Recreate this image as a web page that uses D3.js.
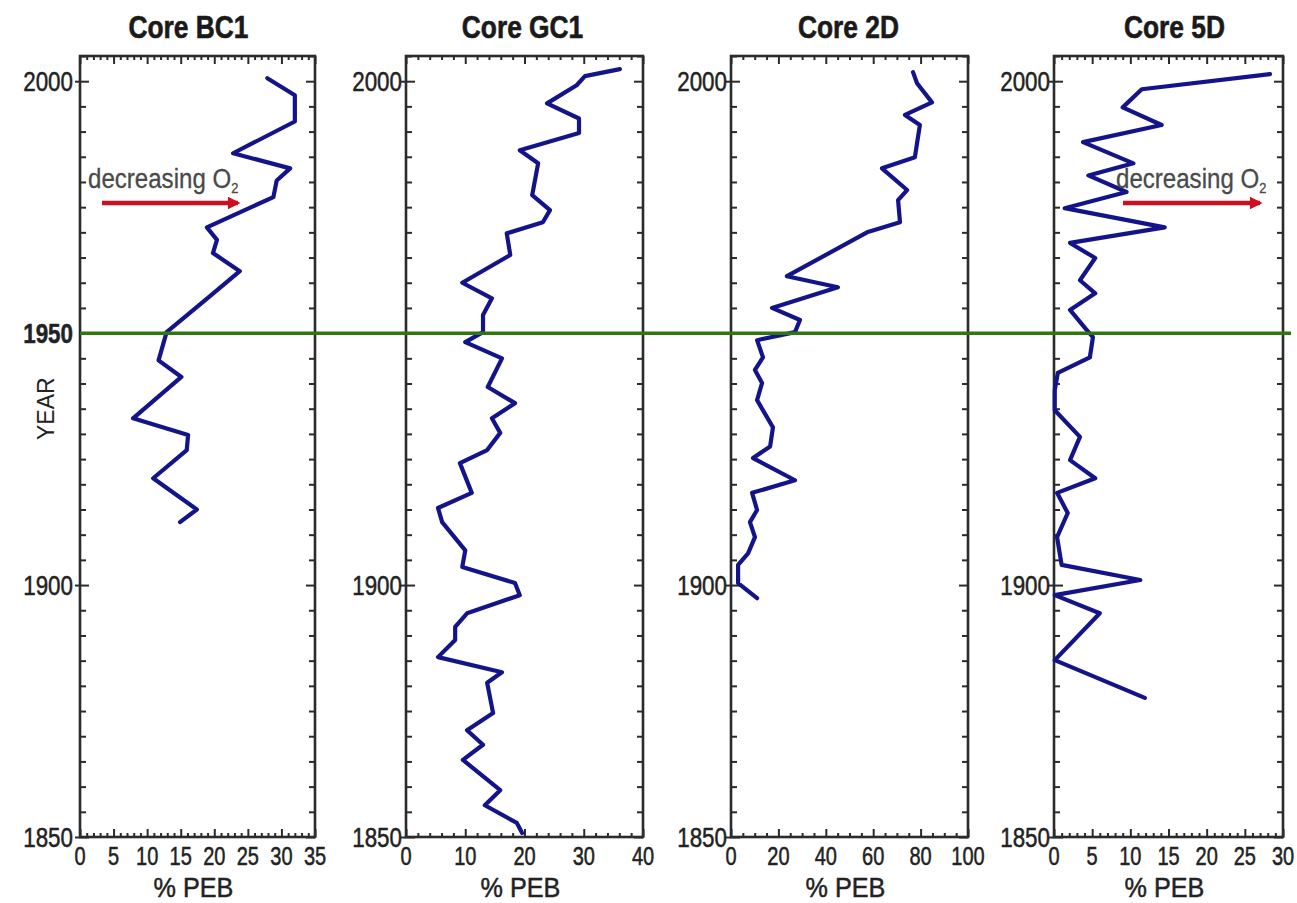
<!DOCTYPE html>
<html>
<head>
<meta charset="utf-8">
<script src="https://cdn.jsdelivr.net/npm/d3@7"></script>
<style>
  html, body { margin: 0; padding: 0; background: #fff; }
  svg { display: block; }
  text { font-family: "Liberation Sans", Arial, sans-serif; }
</style>
</head>
<body>
<svg id="chart" width="1297" height="903"></svg>
<script>
// ---------------- DATA ----------------
const coreNames = ["Core BC1", "Core GC1", "Core 2D", "Core 5D"];

const bc1Years  = [2000.6, 1997.2, 1992, 1985.7, 1982.7, 1980.3, 1977, 1971, 1968.5, 1965.9, 1962.3, 1956.5, 1950.2, 1944.6, 1941.3, 1933.1, 1929.8, 1926.8, 1921.2, 1915, 1912.5];
const bc1Values = [27.9, 32, 32, 22.8, 31.3, 29.3, 28.8, 18.9, 20.4, 19.8, 23.8, 18.6, 12.9, 11.7, 15.1, 7.9, 16.1, 15.9, 10.9, 17.4, 14.9];

const gc1Years  = [2002.4, 2001, 1999.2, 1995.6, 1992.6, 1989.7, 1986.3, 1983.7, 1977.4, 1974.4, 1972, 1969.8, 1965.5, 1960, 1956.9, 1953.6, 1950.2, 1948.2, 1945, 1939.3, 1936.1, 1933.1, 1930.2, 1926.8, 1924.2, 1918.3, 1915.3, 1912.5, 1906.9, 1903.6, 1900.4, 1898, 1894.4, 1891.7, 1889.1, 1885.7, 1882.7, 1880.6, 1874.6, 1871.2, 1868.3, 1865.3, 1859.3, 1856.3, 1852.8, 1850.8];
const gc1Values = [36.1, 30.2, 28.8, 23.8, 29.2, 29.2, 19.2, 22.3, 21.3, 24.3, 23.1, 17, 17.6, 9.5, 14.5, 13, 13, 10, 16.2, 13.8, 18.4, 14.5, 15.9, 13.7, 9.1, 11.1, 5.4, 6.1, 10, 9.5, 18.4, 19.2, 10.3, 8.3, 8.3, 5.4, 16.2, 13.7, 14.7, 10.3, 13, 9.6, 15.9, 13.3, 18.7, 19.6];

const d2Years  = [2001.8, 1999.6, 1995.8, 1993.3, 1991.3, 1987.7, 1984.9, 1982.7, 1978.4, 1976.4, 1972, 1970, 1961.3, 1959.1, 1955, 1952.6, 1950.2, 1948.6, 1945.2, 1942.7, 1940.1, 1936.7, 1931.3, 1927.5, 1925.2, 1920.8, 1918.3, 1914.9, 1912.5, 1909.5, 1906.3, 1904, 1900.4, 1897.4];
const d2Values = [76.8, 78.5, 84.8, 73.4, 79.7, 78.5, 77.6, 63.7, 74.3, 70.5, 71.3, 57.4, 23.6, 45.1, 17.3, 29.1, 27, 11, 13.5, 10.1, 13.1, 11, 17.7, 16.5, 9.3, 27, 8.9, 11, 8, 10.1, 7.2, 3, 3, 11];

const d5Years  = [2001.4, 1998.4, 1994.8, 1991.3, 1987.9, 1983.7, 1981.3, 1978, 1974.8, 1971, 1967.9, 1964.9, 1960.5, 1957.9, 1954.6, 1950.6, 1949.2, 1945.2, 1942.1, 1938.7, 1934.7, 1929.4, 1924.8, 1921.2, 1918.3, 1914.3, 1909.5, 1904, 1901, 1898, 1894.4, 1885.1, 1877.6];
const d5Values = [28.3, 11.5, 9, 14.1, 3.8, 10.4, 4.5, 9.5, 1.4, 14.5, 2.1, 5.4, 3.4, 5.4, 2.1, 4.3, 5.1, 4.7, 0.5, 0.1, 0.1, 3.4, 2.1, 5.4, 0.4, 1.8, 0.4, 1, 11.3, 0.1, 6, 0.1, 11.9];

const xMaxes      = [35, 40, 100, 30];
const xMajorSteps = [5, 10, 20, 5];
const xMinorSteps = [1, 2, 5, 1];

const yearDomain = [1850, 2005];
const yearLabels = [1850, 1900, 2000];
const refYear = 1950;
const annotationText = "decreasing O";
const annotationSub = "2";
const xAxisTitle = "% PEB";
const yAxisTitle = "YEAR";

// ---------------- LAYOUT ----------------
const svg = d3.select("#chart");
const panelLeft  = [80, 406, 731, 1054];
const panelRight = [315, 643, 968, 1283];
const titleShift = [-9, -2, -1, 6];
const yTop = 56, yBottom = 837;
const y = d3.scaleLinear().domain(yearDomain).range([yBottom, yTop]);
const NARROW = 0.8;

const series = [
  bc1Years.map((yr, i) => ({year: yr, v: bc1Values[i]})),
  gc1Years.map((yr, i) => ({year: yr, v: gc1Values[i]})),
  d2Years.map((yr, i) => ({year: yr, v: d2Values[i]})),
  d5Years.map((yr, i) => ({year: yr, v: d5Values[i]}))
];

const frameColor = "#2b2b2b";
const textColor = "#222";

// condensed text helper (horizontal scaling, like Arial Narrow)
function ntext(parent, x, yy, str, size, opts = {}) {
  const fill = opts.fill || textColor;
  const t = parent.append("text")
    .attr("transform", `translate(${x},${yy}) scale(${opts.scale || NARROW},1)`)
    .attr("font-size", size)
    .attr("text-anchor", opts.anchor || "start")
    .attr("font-weight", opts.weight || "normal")
    .attr("fill", fill)
    .attr("stroke", fill).attr("stroke-width", opts.sw === undefined ? 0.5 : opts.sw);
  if (str !== null) t.text(str);
  return t;
}

svg.append("defs").append("marker")
  .attr("id", "arrowhead").attr("viewBox", "0 0 10 10")
  .attr("refX", 8).attr("refY", 5)
  .attr("markerWidth", 4.0).attr("markerHeight", 2.8)
  .attr("markerUnits", "strokeWidth")
  .attr("orient", "auto")
  .append("path").attr("d", "M0,0 L10,5 L0,10 Z").attr("fill", "#cc1020");

const minorYears = d3.range(1850, 2005.1, 5);

coreNames.forEach((name, i) => {
  const x = d3.scaleLinear().domain([0, xMaxes[i]]).range([panelLeft[i], panelRight[i]]);
  const g = svg.append("g");

  // title
  ntext(g, (panelLeft[i] + panelRight[i]) / 2 + titleShift[i], 38, name, 31,
    {anchor: "middle", weight: "bold", fill: "#1a1a1a", scale: 0.85, sw: 0.6});

  // y ticks (left & right) inward
  const majorTicksY = [1850, 1900, 1950, 2000];
  const yMinor = minorYears.filter(v => !majorTicksY.includes(v));
  const axL = d3.axisLeft(y).tickValues(yMinor).tickSize(-6).tickFormat("");
  const axR = d3.axisRight(y).tickValues(yMinor).tickSize(-6).tickFormat("");
  const axLM = d3.axisLeft(y).tickValues(majorTicksY).tickSize(-9).tickFormat("");
  const axRM = d3.axisRight(y).tickValues(majorTicksY).tickSize(-9).tickFormat("");
  [axL, axLM].forEach(a => g.append("g").attr("transform", `translate(${panelLeft[i]},0)`).call(a));
  [axR, axRM].forEach(a => g.append("g").attr("transform", `translate(${panelRight[i]},0)`).call(a));
  g.append("g").attr("transform", `translate(${panelLeft[i]},0)`)
    .call(d3.axisLeft(y).tickValues(yearLabels).tickSize(5).tickFormat(""));

  // x ticks bottom & top inward
  const xMajor = d3.range(0, xMaxes[i] + 0.001, xMajorSteps[i]);
  const xMinor = d3.range(0, xMaxes[i] + 0.001, xMinorSteps[i]).filter(v => Math.abs(v / xMajorSteps[i] - Math.round(v / xMajorSteps[i])) > 1e-6);
  const axB = d3.axisBottom(x).tickValues(xMajor).tickSize(-8).tickFormat("");
  const axBm = d3.axisBottom(x).tickValues(xMinor).tickSize(-4).tickFormat("");
  const axT = d3.axisTop(x).tickValues(xMajor).tickSize(-8).tickFormat("");
  const axTm = d3.axisTop(x).tickValues(xMinor).tickSize(-4).tickFormat("");
  [axB, axBm].forEach(a => g.append("g").attr("transform", `translate(0,${yBottom})`).call(a));
  [axT, axTm].forEach(a => g.append("g").attr("transform", `translate(0,${yTop})`).call(a));

  g.selectAll(".domain").remove();
  g.selectAll(".tick line").attr("stroke", frameColor).attr("stroke-width", 2);

  // frame
  g.append("rect")
    .attr("x", panelLeft[i]).attr("y", yTop)
    .attr("width", panelRight[i] - panelLeft[i]).attr("height", yBottom - yTop)
    .attr("fill", "none").attr("stroke", frameColor).attr("stroke-width", 2.6);

  // x tick labels
  xMajor.forEach(d => ntext(g, x(d), 865, String(d), 25, {anchor: "middle"}));

  // x axis title
  ntext(g, (panelLeft[i] + panelRight[i]) / 2 - 4, 897, xAxisTitle, 28, {anchor: "middle", scale: 0.9});

  // y labels
  const labs = i === 0 ? [1850, 1900, 1950, 2000] : yearLabels;
  labs.forEach(d => ntext(g, panelLeft[i] - (i === 0 ? 7 : 4), y(d) + 10, String(d), 28,
    {anchor: "end", weight: d === refYear ? "bold" : "normal"}));

  // data line
  const line = d3.line().x(d => x(d.v)).y(d => y(d.year));
  g.append("path").datum(series[i]).attr("d", line)
    .attr("fill", "none").attr("stroke", "#14148a").attr("stroke-width", 4.2)
    .attr("stroke-linejoin", "round").attr("stroke-linecap", "round");
});

// green 1950 line
svg.append("line")
  .attr("x1", panelLeft[0]).attr("x2", panelRight[3] + 8)
  .attr("y1", y(refYear)).attr("y2", y(refYear))
  .attr("stroke", "#2f7512").attr("stroke-width", 3.5);

// YEAR label
svg.append("text")
  .attr("transform", `translate(54, ${y(1935)}) rotate(-90)`)
  .attr("text-anchor", "middle")
  .attr("font-size", 23).attr("fill", textColor).text(yAxisTitle);

// annotations (decreasing O2)
const annotations = [
  {tx: 88, ax1: 102, ax2: 238},
  {tx: 1116, ax1: 1123, ax2: 1260}
];
annotations.forEach(a => {
  const t = ntext(svg, a.tx, 188, null, 28, {fill: "#4a4a4a", scale: 0.86, sw: 0.3});
  t.append("tspan").text(annotationText);
  t.append("tspan").attr("font-size", 15).attr("dy", 5).text(annotationSub);
  svg.append("line")
    .attr("x1", a.ax1).attr("x2", a.ax2).attr("y1", 203).attr("y2", 203)
    .attr("stroke", "#cc1020").attr("stroke-width", 4.5)
    .attr("marker-end", "url(#arrowhead)");
});
</script>
</body>
</html>
